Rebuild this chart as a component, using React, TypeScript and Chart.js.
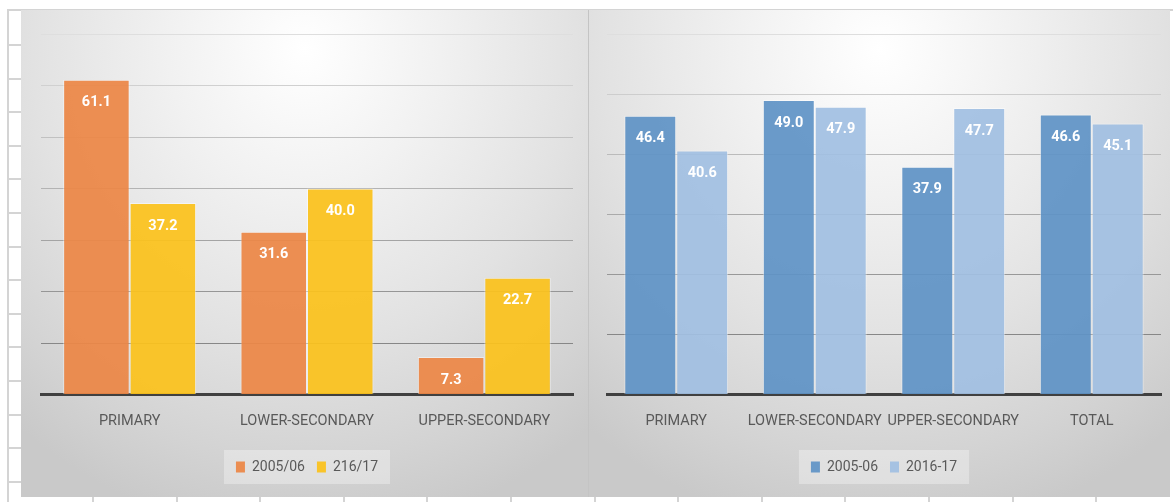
import React, { useEffect, useRef } from "react";
import { Chart, registerables } from "chart.js";

Chart.register(...registerables);

// ---------- data ----------
const leftCategories = ["PRIMARY", "LOWER-SECONDARY", "UPPER-SECONDARY"];
const leftSeries1 = [61.1, 31.6, 7.3];
const leftSeries2 = [37.2, 40.0, 22.7];
const leftSeriesNames = ["2005/06", "216/17"];
const leftYMax = 70;

const rightCategories = ["PRIMARY", "LOWER-SECONDARY", "UPPER-SECONDARY", "TOTAL"];
const rightSeries1 = [46.4, 49.0, 37.9, 46.6];
const rightSeries2 = [40.6, 47.9, 47.7, 45.1];
const rightSeriesNames = ["2005-06", "2016-17"];
const rightYMax = 60;

const yStep = 10;

// ---------- style ----------
const FONT = "Roboto, 'Liberation Sans', sans-serif";
const TEXT = "#595959";

const valueLabels = {
  id: "valueLabels",
  afterDatasetsDraw(chart: any) {
    const ctx = chart.ctx;
    ctx.save();
    ctx.fillStyle = "#ffffff";
    ctx.font = `bold 14.5px ${FONT}`;
    ctx.textAlign = "center";
    ctx.textBaseline = "middle";
    chart.data.datasets.forEach((ds: any, di: number) => {
      const meta = chart.getDatasetMeta(di);
      meta.data.forEach((el: any, i: number) => {
        const v = ds.data[i];
        ctx.fillText(Number(v).toFixed(1), el.x, el.y + 23);
      });
    });
    ctx.restore();
  },
};

const legendBg = {
  id: "legendBg",
  beforeDraw(chart: any) {
    const lg = chart.legend;
    if (!lg || !lg.legendHitBoxes || !lg.legendHitBoxes.length) return;
    let l = Infinity, r = -Infinity, t = Infinity, b = -Infinity;
    lg.legendHitBoxes.forEach((h: any) => {
      l = Math.min(l, h.left);
      r = Math.max(r, h.left + h.width);
      t = Math.min(t, h.top);
      b = Math.max(b, h.top + h.height);
    });
    const ctx = chart.ctx;
    ctx.save();
    ctx.fillStyle = "rgba(255,255,255,0.32)";
    ctx.fillRect(l - 12, t - 10, r - l + 24, b - t + 20);
    ctx.restore();
  },
};

function gridColorFor(yMax: number) {
  return (c: any) => {
    const v = c.tick ? c.tick.value : 0;
    const f = Math.min(1, Math.max(0, (v - yStep) / (yMax - yStep)));
    const g = Math.round(135 + f * 87);
    return `rgb(${g},${g},${g})`;
  };
}

function makeConfig(
  categories: string[],
  s1: number[],
  s2: number[],
  names: string[],
  c1: string,
  c2: string,
  yMax: number,
  padL: number,
  padR: number
): any {
  return {
    type: "bar",
    data: {
      labels: categories,
      datasets: [
        { label: names[0], data: s1, backgroundColor: c1, borderColor: "rgba(255,255,255,0.45)", borderWidth: 1 },
        { label: names[1], data: s2, backgroundColor: c2, borderColor: "rgba(255,255,255,0.45)", borderWidth: 1 },
      ],
    },
    options: {
      responsive: false,
      animation: false,
      layout: { padding: { left: padL, right: padR, top: 24, bottom: 13 } },
      datasets: { bar: { barPercentage: 1, categoryPercentage: 0.75 } },
      scales: {
        x: {
          grid: { display: false, drawTicks: false },
          border: { display: true, color: "#404040", width: 3 },
          ticks: { color: TEXT, font: { family: FONT, size: 14.5 }, padding: 18, maxRotation: 0, autoSkip: false },
        },
        y: {
          min: 0,
          max: yMax,
          ticks: { display: false, stepSize: yStep },
          grid: { color: gridColorFor(yMax), drawTicks: false, lineWidth: 1 },
          border: { display: false },
        },
      },
      plugins: {
        tooltip: { enabled: false },
        legend: {
          position: "bottom",
          labels: {
            color: TEXT,
            font: { family: FONT, size: 14 },
            boxWidth: 9,
            boxHeight: 11,
            padding: 12,
            generateLabels(chart: any) {
              const items = (Chart as any).defaults.plugins.legend.labels.generateLabels(chart);
              return items.map((it: any) => ({ ...it, lineWidth: 0, strokeStyle: "rgba(0,0,0,0)" }));
            },
          },
        },
      },
    },
    plugins: [valueLabels, legendBg],
  };
}

const panelBg =
  "radial-gradient(ellipse 80% 100% at 50% 8%, #ffffff 0%, #f1f1f1 30%, #e2e2e2 60%, #d3d3d3 85%, #c9c9c9 100%)";

function ChartPanel(props: { config: any; left: number; width: number }) {
  const ref = useRef<HTMLCanvasElement | null>(null);
  useEffect(() => {
    if (!ref.current) return;
    const chart = new Chart(ref.current, props.config);
    return () => chart.destroy();
  }, []);
  return (
    <div
      style={{
        position: "absolute",
        left: props.left,
        top: 10,
        width: props.width,
        height: 487,
        background: panelBg,
      }}
    >
      <canvas ref={ref} width={props.width} height={487} style={{ display: "block", width: props.width, height: 487 }} />
    </div>
  );
}

export default function App() {
  const leftCfg = makeConfig(
    leftCategories,
    leftSeries1,
    leftSeries2,
    leftSeriesNames,
    "rgba(236,134,70,0.93)",
    "rgba(251,194,28,0.93)",
    leftYMax,
    20,
    15
  );
  const rightCfg = makeConfig(
    rightCategories,
    rightSeries1,
    rightSeries2,
    rightSeriesNames,
    "rgba(94,147,198,0.92)",
    "rgba(161,191,226,0.92)",
    rightYMax,
    18,
    9
  );

  const rows: number[] = [];
  for (let y = 44; y < 502; y += 33.6) rows.push(Math.round(y));
  const cols: number[] = [];
  for (let x = 92; x < 1173; x += 83.6) cols.push(Math.round(x));

  return (
    <div style={{ position: "absolute", left: 0, top: 0, width: 1173, height: 502, overflow: "hidden", background: "#ffffff" }}>
      {/* spreadsheet decoration */}
      <div style={{ position: "absolute", left: 7, top: 9, width: 1166, height: 2, background: "#d4d4d4" }} />
      <div style={{ position: "absolute", left: 7, top: 9, width: 2, height: 493, background: "#d4d4d4" }} />
      {rows.map((y) => (
        <div key={"r" + y} style={{ position: "absolute", left: 7, top: y, width: 14, height: 2, background: "#d4d4d4" }} />
      ))}
      {cols.map((x) => (
        <div key={"c" + x} style={{ position: "absolute", left: x, top: 497, width: 2, height: 5, background: "#d4d4d4" }} />
      ))}
      <ChartPanel config={leftCfg} left={21} width={567} />
      <ChartPanel config={rightCfg} left={589} width={581} />
      <div style={{ position: "absolute", left: 588, top: 10, width: 1, height: 487, background: "#c4c4c4" }} />
    </div>
  );
}
